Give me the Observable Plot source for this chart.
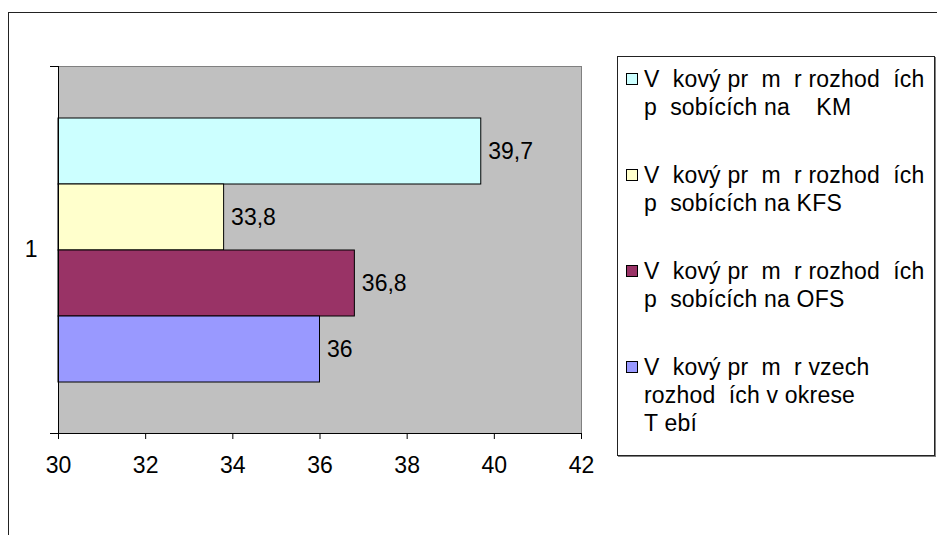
<!DOCTYPE html>
<html>
<head>
<meta charset="utf-8">
<script src="https://cdn.jsdelivr.net/npm/d3@7"></script>
<script src="https://cdn.jsdelivr.net/npm/@observablehq/plot@0.6"></script>
<style>
  html, body { margin: 0; padding: 0; background: #fff; }
  #wrap { position: relative; width: 937px; height: 535px; overflow: hidden; font-family: "Liberation Sans", Arial, sans-serif; }
  #frame { position: absolute; left: 8px; top: 12px; width: 1000px; height: 600px; border-left: 1px solid #222; border-top: 1px solid #222; }
  #chart { position: absolute; left: 0; top: 0; }
  #legend { position: absolute; left: 617px; top: 56px; width: 316px; height: 390px; border: 1px solid #222; box-shadow: 1px 1px 0 #808080; background: #fff; padding-top: 8px; box-sizing: content-box; font-size: 23px; letter-spacing: 0.2px; color: #000; }
  .entry { display: flex; align-items: flex-start; margin-bottom: 40px; }
  .mk { width: 12px; height: 12px; border: 1px solid #000; box-sizing: border-box; margin-left: 8px; margin-top: 8px; flex: none; }
  .txt { margin-left: 6px; line-height: 28px; white-space: pre; }
</style>
</head>
<body>
<div id="wrap">
  <div id="frame"></div>
  <div id="chart"></div>
  <div id="legend"></div>
</div>
<script>
const categories = ["1"];
const series = ["KM", "KFS", "OFS", "Třebíč"];
const values = [39.7, 33.8, 36.8, 36];
const colors = ["#CCFFFF", "#FFFFCC", "#993366", "#9999FF"];
const xTicks = [30, 32, 34, 36, 38, 40, 42];
const legendLines = [
  ["V  kový pr  m  r rozhod  ích", "p  sobících na    KM"],
  ["V  kový pr  m  r rozhod  ích", "p  sobících na KFS"],
  ["V  kový pr  m  r rozhod  ích", "p  sobících na OFS"],
  ["V  kový pr  m  r vzech", "rozhod  ích v okrese", "T ebí"]
];

const data = series.map((s, i) => ({ series: s, value: values[i], cat: categories[0] }));
const FS = 23;

const chart = Plot.plot({
  width: 600,
  height: 535,
  marginLeft: 58,
  marginRight: 19,
  marginTop: 66,
  marginBottom: 102,
  style: { background: "transparent", fontFamily: "'Liberation Sans', Arial, sans-serif", fontSize: FS + "px", color: "#000", overflow: "visible" },
  x: { domain: [xTicks[0], xTicks[xTicks.length - 1]] },
  y: { domain: series, paddingInner: 0, paddingOuter: 0.75, axis: null },
  fy: { domain: categories, padding: 0 },
  color: { domain: series, range: colors },
  marks: [
    Plot.frame({ fill: "#C0C0C0", stroke: "#808080" }),
    Plot.barX(data, { x1: xTicks[0], x2: "value", y: "series", fy: "cat", fill: "series", stroke: "#000", strokeWidth: 1 }),
    Plot.text(data, { x: "value", y: "series", fy: "cat", text: d => String(d.value).replace(".", ","), textAnchor: "start", dx: 7, fill: "#000", fontSize: FS }),
    Plot.ruleX([xTicks[0]], { stroke: "#000" }),
    Plot.frame({ anchor: "bottom", stroke: "#000", insetLeft: -8 }),
    Plot.frame({ anchor: "top", stroke: "#000", insetLeft: -8, insetRight: 523 }),
    Plot.axisX({ ticks: xTicks, tickSize: 6, tickPadding: 17, fontSize: FS, label: null, stroke: "#000", fill: "#000" }),
    Plot.axisFy({ anchor: "left", tickSize: 0, tickPadding: 21, fontSize: FS, label: null, fill: "#000" })
  ]
});
document.getElementById("chart").appendChild(chart);

const legend = document.getElementById("legend");
legendLines.forEach((lines, i) => {
  const e = document.createElement("div");
  e.className = "entry";
  const m = document.createElement("div");
  m.className = "mk";
  m.style.background = colors[i];
  const t = document.createElement("div");
  t.className = "txt";
  t.textContent = lines.join("\n");
  e.appendChild(m);
  e.appendChild(t);
  legend.appendChild(e);
});
</script>
</body>
</html>
